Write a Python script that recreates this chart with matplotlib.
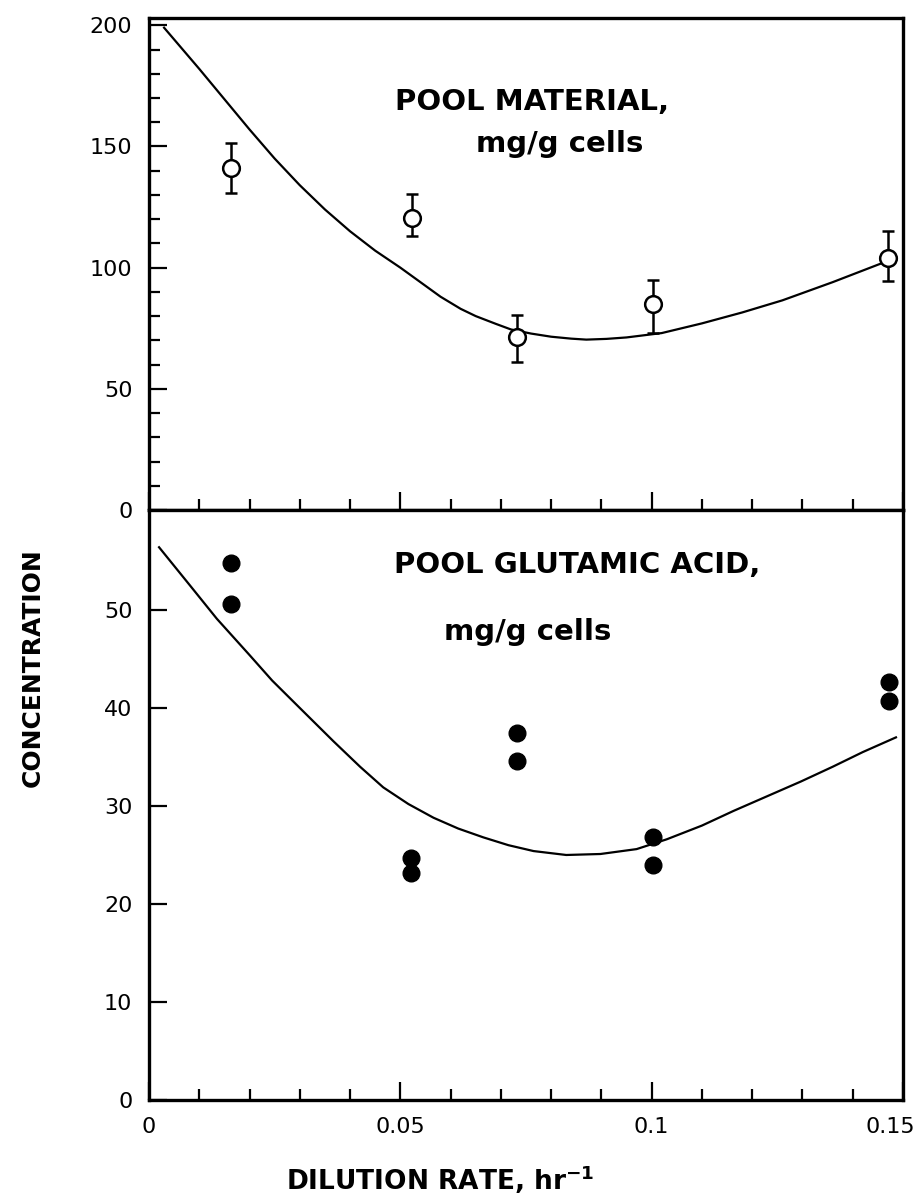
import matplotlib
matplotlib.use('Agg')
import matplotlib.pyplot as plt
from matplotlib.ticker import MultipleLocator
from matplotlib.transforms import ScaledTranslation

# Top panel: pool material, mg/g cells (open circles with error bars)
dilution_pm = [0.0163, 0.0524, 0.0733, 0.1003, 0.1470]
pool_material = [141, 120.5, 71.5, 85, 104]
pm_err_low = [10, 7.5, 10.5, 12, 9.5]
pm_err_high = [10.5, 10, 9, 10, 11]

# fitted curve, top panel
curve_pm_x = [0.003, 0.010, 0.015, 0.020, 0.025, 0.030, 0.035, 0.040, 0.045,
              0.050, 0.054, 0.058, 0.062, 0.065, 0.069, 0.072, 0.076,
              0.080, 0.084, 0.087, 0.091, 0.095, 0.102, 0.110, 0.118,
              0.126, 0.136, 0.146]
curve_pm_y = [199, 182, 169.5, 157, 145, 134, 124, 115, 107,
              100, 94, 88, 83, 80, 76.8, 74.5, 72.8,
              71.5, 70.7, 70.3, 70.6, 71.2, 73, 77, 81.5,
              86.5, 94, 102]

# Bottom panel: pool glutamic acid, mg/g cells (duplicate measurements)
dilution_ga = [0.0163, 0.0163, 0.0522, 0.0522, 0.0732, 0.0732,
               0.1002, 0.1002, 0.1472, 0.1472]
glutamic_acid = [54.8, 50.6, 24.7, 23.2, 37.4, 34.6, 26.8, 24.0, 42.6, 40.7]

# fitted curve, bottom panel
curve_ga_x = [0.002, 0.008, 0.0135, 0.020, 0.0245, 0.030, 0.0367, 0.042,
              0.0466, 0.0516, 0.0566, 0.0615, 0.0665, 0.0715, 0.0765, 0.083,
              0.0898, 0.097, 0.103, 0.110, 0.1163, 0.123, 0.1297, 0.136,
              0.142, 0.1486]
curve_ga_y = [56.4, 52.6, 49.1, 45.4, 42.8, 40.0, 36.6, 34.0,
              31.9, 30.2, 28.8, 27.7, 26.8, 26.0, 25.4, 25.0,
              25.1, 25.6, 26.6, 28.0, 29.5, 31.0, 32.5, 34.0,
              35.5, 37.0]

x_ticks = [0, 0.05, 0.1, 0.15]
x_tick_labels = ['0', '0.05', '0.1', '0.15']

W, H = 919, 1197
fig = plt.figure(figsize=(W / 100, H / 100), dpi=100)

left = 149 / W
width = (903 - 149) / W
ax_top = fig.add_axes([left, 1 - 510 / H, width, (510 - 18) / H])
ax_bot = fig.add_axes([left, 1 - 1100 / H, width, (1100 - 510) / H], sharex=ax_top)

for ax in (ax_top, ax_bot):
    for sp in ax.spines.values():
        sp.set_linewidth(2.4)
    ax.tick_params(which='both', direction='in', width=1.6, labelsize=16,
                   top=False, right=False)
    ax.tick_params(which='major', length=13)
    ax.tick_params(which='minor', length=8)
    ax.set_xlim(0, 0.15)
    ax.xaxis.set_major_locator(MultipleLocator(0.05))
    ax.xaxis.set_minor_locator(MultipleLocator(0.01))

# top panel
ax_top.plot(curve_pm_x, curve_pm_y, color='black', lw=1.6, zorder=2)
ax_top.errorbar(dilution_pm, pool_material, yerr=[pm_err_low, pm_err_high],
                fmt='o', ms=12, mfc='white', mec='black', mew=1.8,
                ecolor='black', elinewidth=1.8, capsize=4, capthick=2.4,
                zorder=3)
ax_top.set_ylim(0, 203)
ax_top.yaxis.set_major_locator(MultipleLocator(50))
ax_top.yaxis.set_minor_locator(MultipleLocator(10))
ax_top.tick_params(axis='y', pad=12)
ax_top.tick_params(axis='x', labelbottom=False)
ax_top.text(0.0763, 168.5, 'POOL MATERIAL,', fontsize=21, fontweight='bold',
            ha='center', va='center')
ax_top.text(0.0817, 151, 'mg/g cells', fontsize=21, fontweight='bold',
            ha='center', va='center')

# bottom panel
ax_bot.plot(curve_ga_x, curve_ga_y, color='black', lw=1.6, zorder=2)
ax_bot.plot(dilution_ga, glutamic_acid, 'o', ms=12, color='black', zorder=3)
ax_bot.set_ylim(0, 60.2)
ax_bot.set_yticks([0, 10, 20, 30, 40, 50])
ax_bot.tick_params(axis='y', which='minor', left=False)
ax_bot.tick_params(axis='y', pad=12)
ax_bot.tick_params(axis='x', pad=12)
ax_bot.set_xticks(x_ticks)
ax_bot.set_xticklabels(x_tick_labels)
# keep the last label inside the figure
last = ax_bot.get_xticklabels()[-1]
last.set_horizontalalignment('right')
last.set_transform(last.get_transform() + ScaledTranslation(12 / 100, 0, fig.dpi_scale_trans))

ax_bot.text(0.0851, 54.6, 'POOL GLUTAMIC ACID,', fontsize=21, fontweight='bold',
            ha='center', va='center')
ax_bot.text(0.0753, 47.8, 'mg/g cells', fontsize=21, fontweight='bold',
            ha='center', va='center')

fig.text(33 / W, 1 - 668 / H, 'CONCENTRATION', rotation=90, fontsize=18,
         fontweight='bold', ha='center', va='center')
fig.text(440 / W, 1 - 1180 / H, r'DILUTION RATE, hr$^{\mathbf{-1}}$',
         fontsize=19, fontweight='bold', ha='center', va='center')

fig.savefig('out.png', dpi=100)
